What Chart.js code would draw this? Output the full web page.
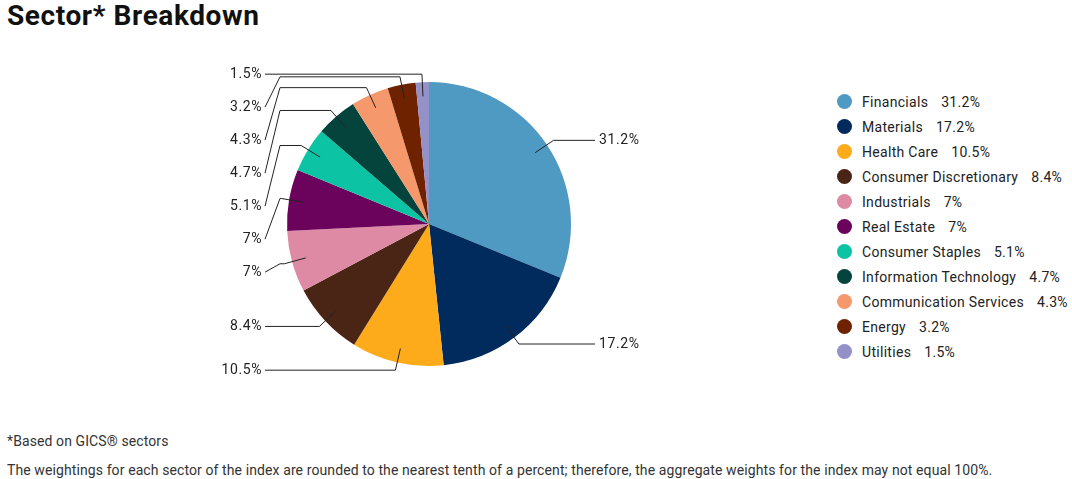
<!DOCTYPE html>
<html>
<head>
<meta charset="utf-8">
<script src="https://cdn.jsdelivr.net/npm/chart.js@4.4.1/dist/chart.umd.min.js"></script>
<style>
  body { margin: 0; background: #fff; font-family: Roboto, "Noto Sans", sans-serif; color: #222; }
  #page { position: relative; width: 1072px; height: 479px; overflow: hidden; }
  h1 { position: absolute; left: 7px; top: -1px; margin: 0; font-size: 28px; font-weight: 700; letter-spacing: 0.6px; color: #111; }
  #pieBox { position: absolute; left: 100px; top: 40px; width: 658px; height: 368px; }
  #legend { position: absolute; left: 837px; top: 89px; }
  .row { display: flex; align-items: center; height: 25px; font-size: 14px; letter-spacing: 0.3px; color: #222; }
  .dot { width: 15px; height: 15px; border-radius: 50%; margin-right: 10px; }
  .val { margin-left: 13px; }
  .note { position: absolute; left: 7px; font-size: 14px; letter-spacing: 0.1px; color: #333; }
</style>
</head>
<body>
<div id="page">
  <h1>Sector* Breakdown</h1>
  <div id="pieBox"><canvas id="sectorPie"></canvas></div>
  <div id="legend"></div>
  <div class="note" style="top:433px">*Based on GICS® sectors</div>
  <div class="note" style="top:462px">The weightings for each sector of the index are rounded to the nearest tenth of a percent; therefore, the aggregate weights for the index may not equal 100%.</div>
</div>
<script>
const sectors = ['Financials', 'Materials', 'Health Care', 'Consumer Discretionary', 'Industrials',
  'Real Estate', 'Consumer Staples', 'Information Technology', 'Communication Services', 'Energy', 'Utilities'];
const weights = [31.2, 17.2, 10.5, 8.4, 7, 7, 5.1, 4.7, 4.3, 3.2, 1.5];
const sectorColors = ['#4f9ac3', '#002b5c', '#fdab1b', '#4a2516', '#df8aa5', '#6b035c',
  '#0cc4a4', '#05433d', '#f5986b', '#6e2200', '#9490c8'];

function pct(v) { return v + '%'; }

// legend as plain html
const legend = document.getElementById('legend');
sectors.forEach((name, i) => {
  const row = document.createElement('div');
  row.className = 'row';
  row.innerHTML = '<span class="dot" style="background:' + sectorColors[i] + '"></span>' +
    '<span>' + name + '</span><span class="val">' + pct(weights[i]) + '</span>';
  legend.appendChild(row);
});

// connector lines + outside labels, positioned from the arc elements
const leaderLines = {
  id: 'leaderLines',
  afterDatasetsDraw(chart) {
    const ctx = chart.ctx;
    const meta = chart.getDatasetMeta(0);
    const items = meta.data.map((arc, i) => {
      const p = arc.getProps(['x', 'y', 'startAngle', 'endAngle', 'outerRadius'], true);
      const mid = (p.startAngle + p.endAngle) / 2;
      const c = Math.cos(mid), s = Math.sin(mid), R = p.outerRadius;
      return {
        i, cx: p.x, R,
        ax: p.x + c * R * 0.9, ay: p.y + s * R * 0.9,
        ex: p.x + c * (R + 8), ey: p.y + s * (R + 8),
        left: c < 0
      };
    });

    [true, false].forEach(side => {
      const group = items.filter(it => it.left === side).sort((a, b) => a.ey - b.ey);
      let prev = -Infinity;
      group.forEach(it => {
        it.ly = Math.max(it.ey, prev + 33);
        prev = it.ly;
      });
    });

    ctx.save();
    ctx.strokeStyle = '#222';
    ctx.lineWidth = 1;
    ctx.fillStyle = '#222';
    ctx.font = '14px Roboto, "Noto Sans", sans-serif';
    ctx.letterSpacing = '0.6px';
    ctx.textBaseline = 'middle';
    items.forEach(it => {
      const dir = it.left ? -1 : 1;
      const bendX = it.cx + dir * (it.R + (it.left ? 7 : 6));
      const endX = it.cx + dir * (it.R + (it.left ? 22 : 24));
      const textX = it.cx + dir * (it.R + (it.left ? 25 : 28));
      ctx.beginPath();
      ctx.moveTo(it.ax, it.ay);
      ctx.lineTo(it.ex, it.ey);
      ctx.lineTo(bendX, it.ey);
      ctx.lineTo(endX, it.ly);
      ctx.stroke();
      ctx.textAlign = it.left ? 'right' : 'left';
      ctx.fillText(pct(weights[it.i]), textX, it.ly);
    });
    ctx.restore();
  }
};

new Chart(document.getElementById('sectorPie'), {
  type: 'pie',
  data: {
    labels: sectors,
    datasets: [{
      data: weights,
      backgroundColor: sectorColors,
      borderWidth: 0
    }]
  },
  options: {
    responsive: true,
    maintainAspectRatio: false,
    animation: false,
    layout: { padding: { top: 42, bottom: 42, left: 0, right: 0 } },
    plugins: {
      legend: { display: false },
      tooltip: { enabled: false }
    }
  },
  plugins: [leaderLines]
});
</script>
</body>
</html>
